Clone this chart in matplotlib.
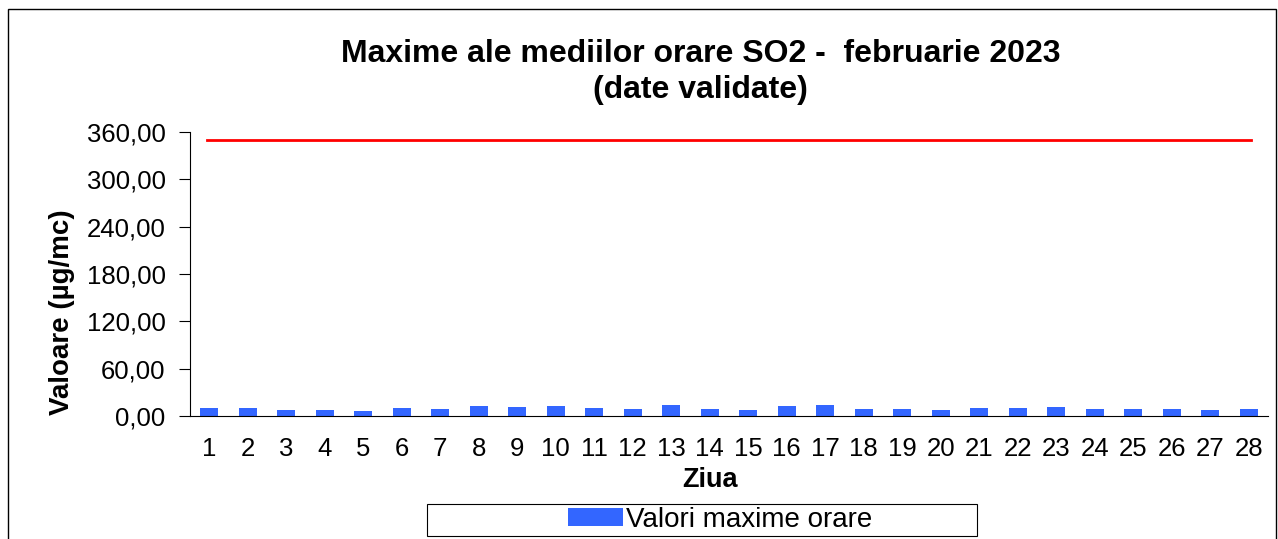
import matplotlib
matplotlib.use("Agg")
import matplotlib.pyplot as plt
from matplotlib.patches import Rectangle
from matplotlib.ticker import FuncFormatter

plt.rcParams['font.family'] = ['Liberation Sans', 'DejaVu Sans']

# days of February 2023 and max hourly SO2 values
days = list(range(1, 29))
max_vals = [10, 10, 8, 7.6, 6.3, 10, 8.6, 12.7, 11.4, 13,
            10.5, 8.5, 14, 8.9, 8, 13, 14, 9.3, 9, 8,
            10, 10, 12, 9.3, 9.3, 8.3, 7, 8.8]
limit_val = 350
y_ticks = [0, 60, 120, 180, 240, 300, 360]

fig = plt.figure(figsize=(12.78, 5.39), dpi=100)
ax = fig.add_axes([190 / 1278, 1 - 416 / 539, 1078 / 1278, 284 / 539])

ax.bar(days, max_vals, width=0.46, color='#3366ff', label='Valori maxime orare')
ax.plot([days[0] - 0.05, days[-1] + 0.05], [limit_val, limit_val], color='#ff0000', lw=2)

ax.set_xlim(0.5, 28.5)
ax.set_ylim(0, 360)
ax.set_xticks(days)
ax.set_yticks(y_ticks)
ax.yaxis.set_major_formatter(FuncFormatter(lambda v, p: f"{v:.2f}".replace('.', ',')))
ax.tick_params(axis='y', labelsize=18.5, length=8, direction='out', pad=9.5)
ax.tick_params(axis='x', labelsize=18.5, length=0, pad=15)
for s in ['top', 'right']:
    ax.spines[s].set_visible(False)

ax.set_xlabel('Ziua', fontsize=19.5, fontweight='bold')
ax.set_ylabel('Valoare (µg/mc)', fontsize=20, fontweight='bold')
ax.xaxis.set_label_coords((710 - 190) / 1078, (416 - 467) / 284)
ax.yaxis.set_label_coords((75 - 190) / 1078, (416 - 312) / 284)

fig.text(0.548, 1 - 72 / 539, 'Maxime ale mediilor orare SO2 -  februarie 2023\n(date validate)',
         ha='center', va='center', fontsize=23, fontweight='bold', linespacing=1.25)

# legend box drawn separately, legend entry centred inside it
fig.patches.append(Rectangle((427 / 1278, 1 - 536 / 539), 550 / 1278, 32 / 539,
                             transform=fig.transFigure, fill=False, edgecolor='black', lw=0.8))
ax.legend(loc='center', bbox_to_anchor=(720 / 1278, 1 - 520 / 539), bbox_transform=fig.transFigure,
          frameon=False, fontsize=20, handlelength=2.0, handleheight=0.6,
          borderpad=0.0, handletextpad=0.1)

# outer chart border
fig.patches.append(Rectangle((8 / 1278, -0.1), 1268 / 1278, 1.1 - 9 / 539,
                             transform=fig.transFigure, fill=False, edgecolor='black', lw=1))

fig.savefig('out.png', dpi=100)
